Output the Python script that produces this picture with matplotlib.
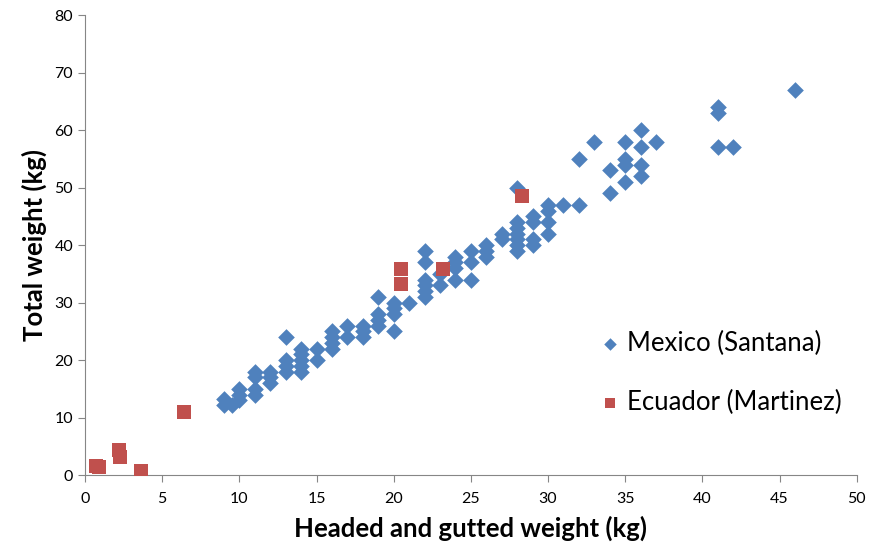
import matplotlib
matplotlib.use("Agg")
import matplotlib.pyplot as plt

plt.rcParams['font.family'] = ['Lato', 'DejaVu Sans']

# Mexico (Santana): headed and gutted weight vs total weight
mex_hg = [9, 9, 9.5, 10, 10, 10, 11, 11, 11, 11, 12, 12, 12,
          13, 13, 13, 13, 14, 14, 14, 14, 14, 15, 15,
          16, 16, 16, 16, 17, 17, 18, 18, 18, 19, 19, 19, 19,
          20, 20, 20, 20, 21, 22, 22, 22, 22, 22, 22, 23, 23,
          24, 24, 24, 24, 25, 25, 25, 26, 26, 26, 27, 27,
          28, 28, 28, 28, 28, 28, 28, 29, 29, 29, 29, 30, 30, 30, 30,
          31, 32, 32, 33, 34, 34, 35, 35, 35, 35, 36, 36, 36, 36, 37,
          41, 41, 41, 42, 46]
mex_tot = [13.3, 12.2, 12.2, 15, 14, 13, 18, 17, 15, 14, 18, 17, 16,
           24, 20, 19, 18, 22, 21, 20, 19, 18, 22, 20,
           25, 24, 23, 22, 26, 24, 26, 25, 24, 31, 28, 27, 26,
           30, 29, 28, 25, 30, 39, 37, 34, 33, 32, 31, 35, 33,
           38, 37, 36, 34, 39, 37, 34, 40, 39, 38, 42, 41,
           50, 44, 43, 42, 41, 40, 39, 45, 44, 41, 40, 47, 46, 44, 42,
           47, 47, 55, 58, 53, 49, 58, 55, 54, 51, 60, 57, 54, 52, 58,
           64, 63, 57, 57, 67]

# Ecuador (Martinez)
ecu_hg = [0.7, 0.9, 2.2, 2.3, 3.6, 6.4, 20.5, 20.5, 23.2, 28.3]
ecu_tot = [1.5, 1.4, 4.3, 3.2, 0.7, 11.0, 35.9, 33.2, 35.9, 48.6]

fig = plt.figure(figsize=(8.78, 5.45), dpi=100)
ax = fig.add_axes([0.0968, 0.1284, 0.879, 0.844])

ax.scatter(mex_hg, mex_tot, marker='D', s=72, color='#4F81BD',
           linewidths=0, label='Mexico (Santana)', zorder=3)
ax.scatter(ecu_hg, ecu_tot, marker='s', s=95, color='#C0504D',
           linewidths=0, label='Ecuador (Martinez)', zorder=4)

ax.set_xlim(0, 50)
ax.set_ylim(0, 80)
ax.set_xticks(range(0, 51, 5))
ax.set_yticks(range(0, 81, 10))

for s in ['top', 'right']:
    ax.spines[s].set_visible(False)
for s in ['left', 'bottom']:
    ax.spines[s].set_color('#868686')
ax.tick_params(direction='out', length=5, color='#868686',
               labelsize=11.5, labelcolor='black')
ax.tick_params(axis='x', pad=7)

ax.set_xlabel('Headed and gutted weight (kg)', fontsize=18.5, fontweight='bold',
              labelpad=7)
ax.set_ylabel('Total weight (kg)', fontsize=18.5, fontweight='bold', labelpad=5)

ax.legend(loc='center left', bbox_to_anchor=(0.632, 0.222), frameon=False,
          fontsize=18.5, labelspacing=1.3, handletextpad=0.1, markerscale=0.75,
          handlelength=1.1)

fig.savefig('out.png', dpi=100)
